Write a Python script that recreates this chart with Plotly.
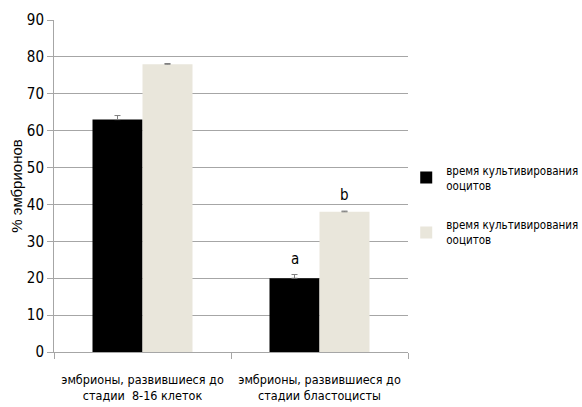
import plotly.graph_objects as go

# Data
categories = [
    "эмбрионы, развившиеся до<br>стадии  8-16 клеток",
    "эмбрионы, развившиеся до<br>стадии бластоцисты",
]
series_names = [
    "время культивирования<br>ооцитов",
    "время культивирования<br>ооцитов",
]
values_a = [63, 20]
errors_a = [1.1, 1.0]
values_b = [78, 38]
errors_b = [0.2, 0.2]
letters_a = ["", "a"]
letters_b = ["", "b"]
y_ticks = [0, 10, 20, 30, 40, 50, 60, 70, 80, 90]

narrow = "DejaVu Sans Condensed, Liberation Sans Narrow, Roboto, sans-serif"
grid = "#A6A6A6"

fig = go.Figure()
fig.add_trace(go.Bar(
    x=categories, y=values_a, name=series_names[0],
    marker=dict(color="#000000", line=dict(width=0)),
    error_y=dict(type="data", array=errors_a, arrayminus=[0, 0], symmetric=False,
                 color="#7F7F7F", thickness=1, width=3),
    legendgroup="a",
))
fig.add_trace(go.Bar(
    x=categories, y=values_b, name=series_names[1],
    marker=dict(color="#E9E6DB", line=dict(width=0)),
    error_y=dict(type="data", array=errors_b, arrayminus=[0, 0], symmetric=False,
                 color="#7F7F7F", thickness=1, width=3),
    legendgroup="b",
))

# significance letters above the bars
for vals, errs, letters, offset in ((values_a, errors_a, letters_a, -0.14),
                                    (values_b, errors_b, letters_b, 0.14)):
    for i, (v, e, t) in enumerate(zip(vals, errs, letters)):
        if t:
            fig.add_annotation(
                x=i + offset, y=v + e, text=t, showarrow=False,
                yanchor="bottom", yshift=5,
                font=dict(family=narrow, size=15, color="#000000"),
            )

fig.update_layout(
    width=582, height=407,
    margin=dict(l=54, r=174, t=20, b=55, autoexpand=False),
    paper_bgcolor="white", plot_bgcolor="white",
    barmode="group", bargap=0.435, bargroupgap=0,
    showlegend=True,
    legend=dict(
        x=0.995, y=0.59, xanchor="left", yanchor="top",
        font=dict(family=narrow, size=11.5, color="#000000"),
        tracegroupgap=22, itemwidth=30,
        bgcolor="rgba(0,0,0,0)",
    ),
    xaxis=dict(
        type="category", tickson="boundaries", ticks="outside", ticklen=6,
        tickcolor=grid, showline=True, linecolor=grid, linewidth=1,
        showgrid=False, tickangle=0, automargin=False, ticklabelstandoff=16,
        tickfont=dict(family=narrow, size=12.5, color="#000000"),
    ),
    yaxis=dict(
        range=[0, 90], tickvals=y_ticks, ticks="outside", ticklen=6,
        tickcolor=grid, showline=True, linecolor=grid, linewidth=1,
        showgrid=True, gridcolor=grid, gridwidth=1, zeroline=False,
        automargin=False,
        tickfont=dict(family=narrow, size=15, color="#000000"),
        title=dict(text="% эмбрионов", standoff=0,
                   font=dict(family="Liberation Sans, Arial, sans-serif", size=15, color="#000000")),
    ),
)

fig.write_html("out.html")
